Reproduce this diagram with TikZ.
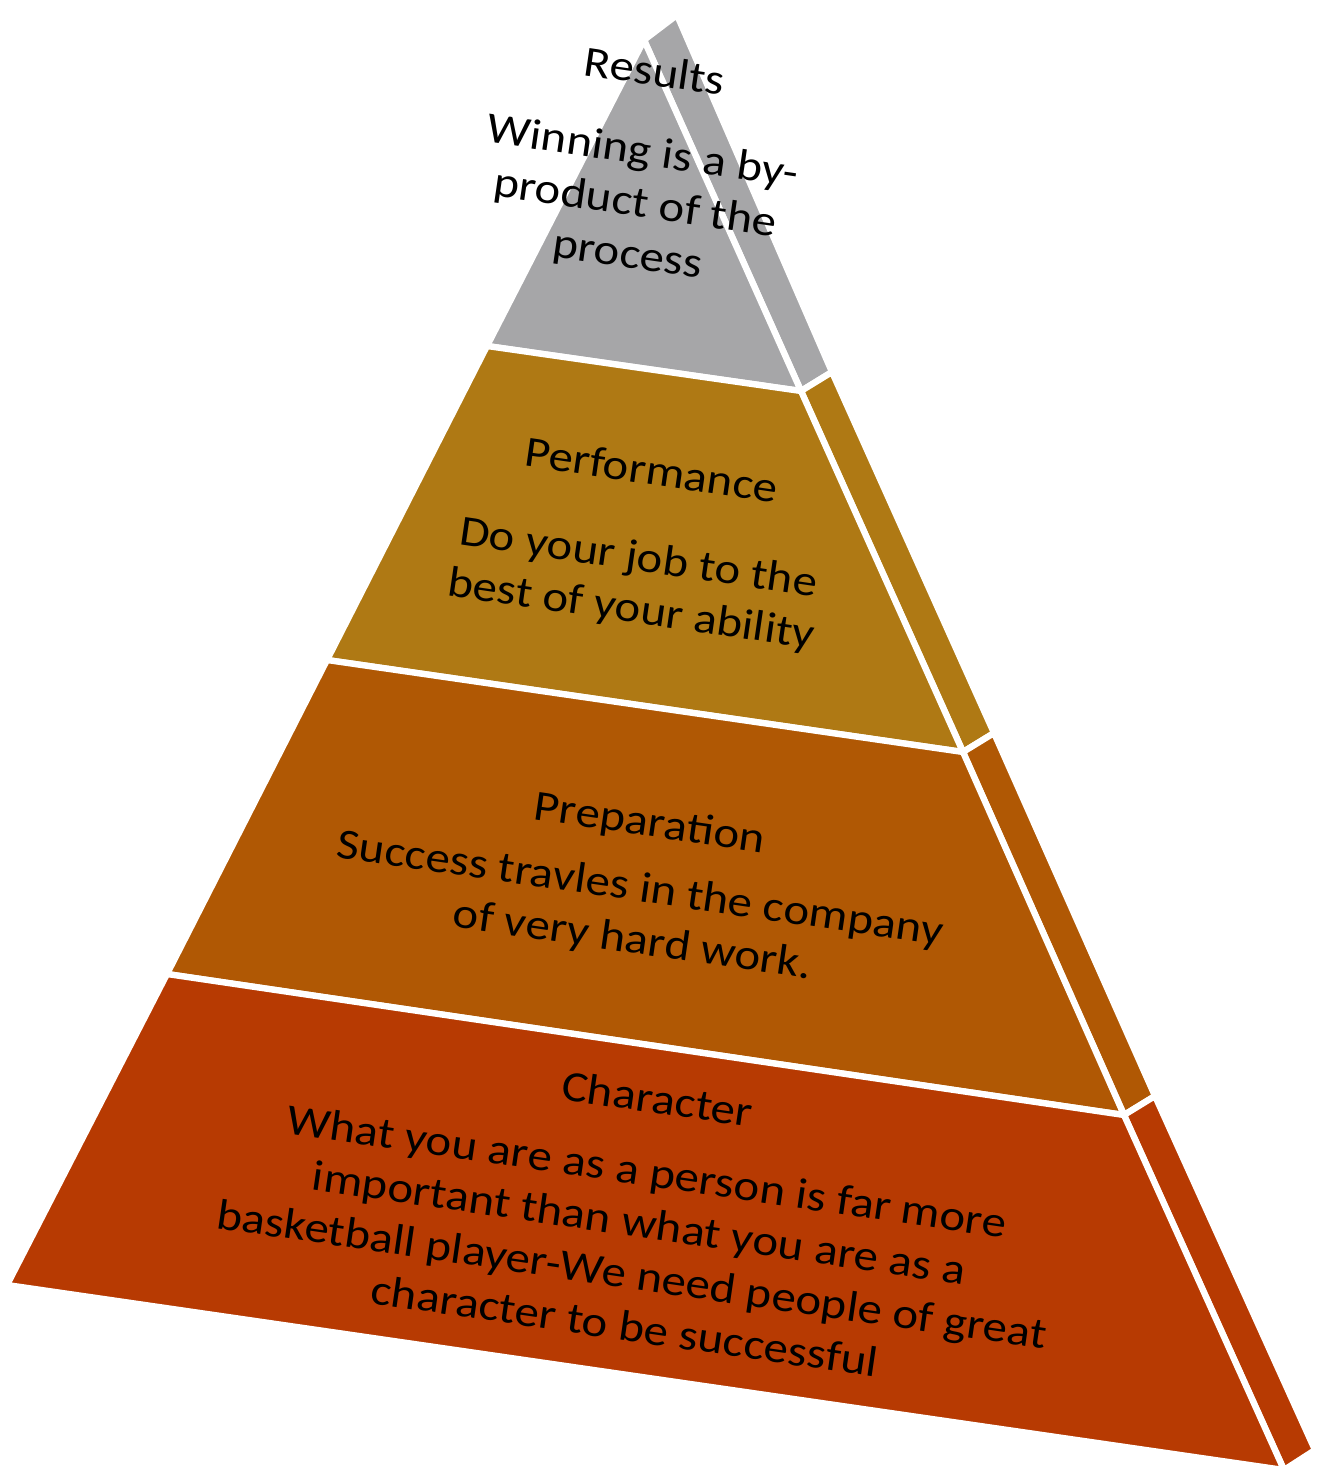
\documentclass[tikz,border=0pt]{standalone}
\usepackage{fontspec}
\setmainfont{Carlito}
\usepackage{tikz}
\usetikzlibrary{positioning}
\definecolor{pyrgray}{RGB}{166,166,168}
\definecolor{pyrgold}{RGB}{175,121,20}
\definecolor{pyrorange}{RGB}{176,88,4}
\definecolor{pyrrust}{RGB}{183,58,2}
\tikzstyle{tier} = [draw=white, line width=1.8pt, line join=round]
\tikzstyle{tiertext} = [align=center, rotate=-8.3, xscale=1.13, font=\fontsize{12.3}{14.8}\selectfont, text=black, inner sep=0pt]

\begin{document}
\begin{tikzpicture}[x=0.1mm, y=-0.1mm]
\useasboundingbox (0,0) rectangle (1330,1480);
% Corners of the pyramid
\coordinate (apex) at (644,40);
\coordinate (l1) at (487,346);  \coordinate (r1) at (801,391);
\coordinate (l2) at (327,660);  \coordinate (r2) at (963,752);
\coordinate (l3) at (167,974);  \coordinate (r3) at (1124,1115);
\coordinate (l4) at (7,1285);   \coordinate (r4) at (1284,1470);
\coordinate (s0) at (677,15);   \coordinate (s1) at (832,372);
\coordinate (s2) at (994,733);  \coordinate (s3) at (1155,1096);
\coordinate (s4) at (1315,1450);

% Side faces
\draw[tier, fill=pyrgray] (apex) -- (s0) -- (s1) -- (r1) -- cycle;
\draw[tier, fill=pyrgold] (r1) -- (s1) -- (s2) -- (r2) -- cycle;
\draw[tier, fill=pyrorange] (r2) -- (s2) -- (s3) -- (r3) -- cycle;
\draw[tier, fill=pyrrust] (r3) -- (s3) -- (s4) -- (r4) -- cycle;

% Front faces
\draw[tier, fill=pyrgray] (apex) -- (r1) -- (l1) -- cycle;
\draw[tier, fill=pyrgold] (l1) -- (r1) -- (r2) -- (l2) -- cycle;
\draw[tier, fill=pyrorange] (l2) -- (r2) -- (r3) -- (l3) -- cycle;
\draw[tier, fill=pyrrust] (l3) -- (r3) -- (r4) -- (l4) -- cycle;

% Texts
\node (results) [tiertext] at (641,165) {Results\\[8pt]Winning is a by-\\product of the\\process};
\node (performance) [tiertext] at (641,542) {Performance\\[10pt]Do your job to the\\best of your ability};
\node (preparation) [tiertext] at (641,883) {Preparation\\[4pt]Success travles in the company\\of very hard work.};
\node (character) [tiertext] at (641,1212) {Character\\[6pt]What you are as a person is far more\\important than what you are as a\\basketball player-We need people of great\\character to be successful};
\end{tikzpicture}
\end{document}
